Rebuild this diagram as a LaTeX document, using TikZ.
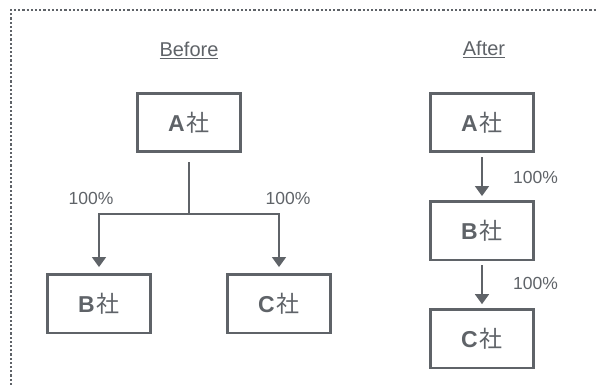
\documentclass[tikz,border=0pt]{standalone}
\usepackage{fontspec}
\setmainfont{Liberation Sans}
\newfontfamily\jpfont{Noto Sans CJK JP}
\usetikzlibrary{arrows.meta,positioning}
\definecolor{ink}{RGB}{95,99,104}
\newcommand{\kaisha}[1]{#1\hspace{2pt}{\jpfont\mdseries 社}}

\begin{document}
\begin{tikzpicture}[x=1pt, y=-1pt, -, node distance = 47pt,
                    auto, main/.style = {draw=ink, line width=2.6pt, minimum width=103.5pt, minimum height=58.5pt, inner sep=0pt, text=ink, font=\fontsize{23}{23}\selectfont\bfseries},
                    pct/.style = {text=ink, inner sep=0pt, font=\fontsize{17.5}{18}\selectfont},
                    head/.style = {text=ink, inner sep=0pt, font=\fontsize{20}{20}\selectfont},
                    link/.style = {draw=ink, line width=1.6pt},
                    go/.style = {link, -{Triangle[width=14pt,length=10pt]}},
                    frame/.style = {draw=ink, line width=2.4pt, dash pattern=on 2.2pt off 2pt}]
\useasboundingbox (0,0) rectangle (597,385);
\draw[frame] (11,385) -- (11,10) -- (597,10);
    \node[head] (before) at (189,50) {\underline{Before}};
\node[head] (after) at (484,49) {\underline{After}};
    \node[main] (A) at (189,122.5) {\kaisha{A}};
\begin{scope}[node distance=120pt]
\node[main, below= of A, xshift=-90pt] (B) {\kaisha{B}};
\node[main, below= of A, xshift=90pt] (C) {\kaisha{C}};
\end{scope}
    \node[main] (A2) at (482,122.5) {\kaisha{A}};
\node[main, below= of A2] (B2) {\kaisha{B}};
\node[main, below= of B2] (C2) {\kaisha{C}};
    \coordinate (fork) at (189,214);
\draw[link, shorten <=9pt] (A) -- (fork);
\draw[go, shorten >=6pt] (fork) -| (B);
\draw[go, shorten >=6pt] (fork) -| (C);
\draw[go, shorten <=4pt, shorten >=4pt] (A2) -- (B2);
\draw[go, shorten <=4pt, shorten >=4pt] (B2) -- (C2);
    \node[pct] (pB) at (91,198) {100\%};
\node[pct] (pC) at (288,198) {100\%};
\node[pct] (pB2) at (535.5,177) {100\%};
\node[pct] (pC2) at (535.5,283) {100\%};
\end{tikzpicture}
\end{document}
